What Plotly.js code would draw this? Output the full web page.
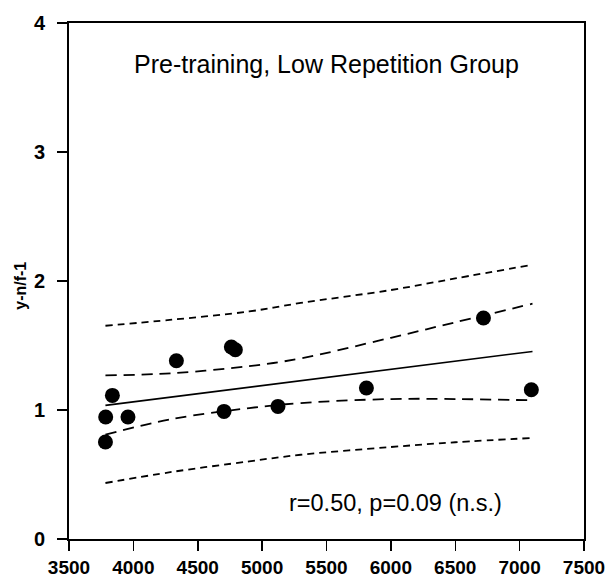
<!DOCTYPE html>
<html>
<head>
<meta charset="utf-8">
<script src="https://cdn.plot.ly/plotly-3.0.1.min.js"></script>
<style>html,body{margin:0;padding:0;background:#fff;}#chart{width:607px;height:577px;}</style>
</head>
<body>
<div id="chart"></div>
<script>
// Observed data points
var pointX = [3783, 3785, 3837, 3958, 4334, 4704, 4761, 4792, 5123, 5810, 6719, 7091];
var pointY = [0.752, 0.946, 1.113, 0.946, 1.382, 0.989, 1.488, 1.467, 1.028, 1.171, 1.713, 1.157];

// Regression line
var fitX = [3783, 7100];
var fitY = [1.036, 1.454];

// Confidence band (long dashes)
var bandX = [3783, 4300, 4900, 5300, 6000, 6500, 7100];
var ciUpper = [1.268, 1.285, 1.34, 1.40, 1.56, 1.68, 1.824];
var ciLower = [0.809, 0.93, 1.015, 1.054, 1.085, 1.085, 1.075];

// Prediction band (short dashes)
var piUpper = [1.653, 1.70, 1.764, 1.83, 1.93, 2.02, 2.126];
var piLower = [0.434, 0.52, 0.602, 0.653, 0.713, 0.75, 0.783];

var xTicks = [3500, 4000, 4500, 5000, 5500, 6000, 6500, 7000, 7500];
var yTicks = [0, 1, 2, 3, 4];

var chartTitle = "Pre-training, Low Repetition Group";
var statText = "r=0.50, p=0.09 (n.s.)";
var yTitle = "y-n/f-1";

var font = "Liberation Sans, Arial, sans-serif";

var traces = [
  {x: bandX, y: piUpper, mode: "lines", line: {color: "#000", width: 1.8, dash: "7px,5px", shape: "spline"}, hoverinfo: "skip"},
  {x: bandX, y: piLower, mode: "lines", line: {color: "#000", width: 1.8, dash: "7px,5px", shape: "spline"}, hoverinfo: "skip"},
  {x: bandX, y: ciUpper, mode: "lines", line: {color: "#000", width: 1.8, dash: "11px,7px", shape: "spline"}, hoverinfo: "skip"},
  {x: bandX, y: ciLower, mode: "lines", line: {color: "#000", width: 1.8, dash: "11px,7px", shape: "spline"}, hoverinfo: "skip"},
  {x: fitX, y: fitY, mode: "lines", line: {color: "#000", width: 1.6}, hoverinfo: "skip"},
  {x: pointX, y: pointY, mode: "markers", marker: {color: "#000", size: 15, line: {width: 0}}}
];

var layout = {
  width: 607, height: 577,
  margin: {l: 69, r: 23, t: 23, b: 38},
  paper_bgcolor: "#fff", plot_bgcolor: "#fff",
  showlegend: false,
  font: {family: font, color: "#000"},
  xaxis: {
    range: [3500, 7500], tickvals: xTicks, ticktext: xTicks.map(String),
    ticks: "outside", ticklen: 10, tickwidth: 1.5, tickcolor: "#000",
    showline: true, linecolor: "#000", linewidth: 2, mirror: true,
    showgrid: false, zeroline: false,
    tickfont: {family: font, size: 19, color: "#000", weight: "bold"},
    ticklabelstandoff: 0
  },
  yaxis: {
    range: [0, 4], tickvals: yTicks, ticktext: yTicks.map(String),
    ticks: "outside", ticklen: 10, tickwidth: 1.5, tickcolor: "#000",
    showline: true, linecolor: "#000", linewidth: 2, mirror: true,
    showgrid: false, zeroline: false,
    tickfont: {family: font, size: 20, color: "#000", weight: "bold"},
    ticklabelstandoff: 8
  },
  annotations: [
    {text: chartTitle, xref: "paper", yref: "paper", x: 0.5, y: 0.92, xanchor: "center", yanchor: "middle", showarrow: false,
     font: {family: font, size: 25, color: "#000"}},
    {text: statText, xref: "paper", yref: "paper", x: 0.845, y: 0.07, xanchor: "right", yanchor: "middle", showarrow: false,
     font: {family: font, size: 23.5, color: "#000"}},
    {text: yTitle, xref: "paper", yref: "paper", x: -0.094, y: 0.49, xanchor: "center", yanchor: "middle", textangle: -90, showarrow: false,
     font: {family: font, size: 16, color: "#000", weight: "bold"}}
  ]
};

Plotly.newPlot("chart", traces, layout, {staticPlot: true, displayModeBar: false});
</script>
</body>
</html>
